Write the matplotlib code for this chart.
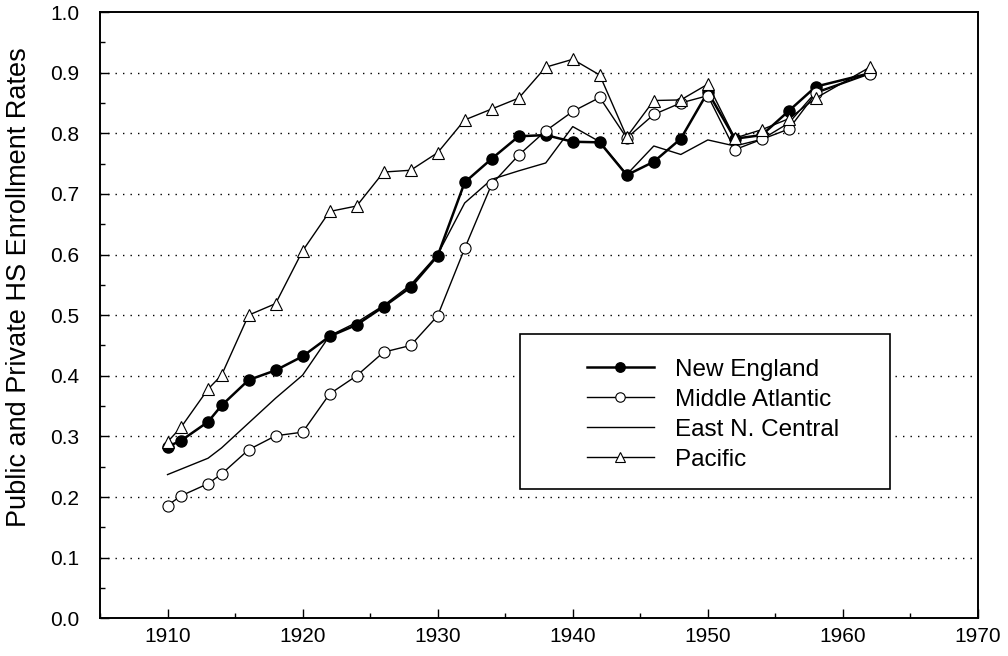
import numpy as np
import matplotlib
matplotlib.use("Agg")
import matplotlib.pyplot as plt
from matplotlib.patches import Rectangle
from matplotlib.ticker import MultipleLocator, FormatStrFormatter

plt.rcParams["font.family"] = ["Liberation Sans", "DejaVu Sans"]

years = [1910, 1911, 1913, 1914, 1916, 1918, 1920, 1922, 1924, 1926, 1928,
         1930, 1932, 1934, 1936, 1938, 1940, 1942, 1944, 1946, 1948, 1950,
         1952, 1954, 1956, 1958, 1962]

new_england = [0.283, 0.293, 0.324, 0.351, 0.393, 0.409, 0.432, 0.465, 0.484,
               0.514, 0.546, 0.598, 0.719, 0.758, 0.795, 0.797, 0.786, 0.785,
               0.731, 0.753, 0.791, 0.868, 0.791, 0.797, 0.837, 0.877, 0.899]
middle_atlantic = [0.186, 0.202, 0.222, 0.238, 0.278, 0.301, 0.307, 0.370, 0.400,
                   0.439, 0.450, 0.499, 0.610, 0.716, 0.764, 0.804, 0.836, 0.859,
                   0.792, 0.831, 0.850, 0.862, 0.773, 0.790, 0.807, 0.866, 0.898]
east_n_central = [0.237, 0.246, 0.264, 0.281, 0.322, 0.363, 0.401, 0.466, 0.488,
                  0.516, 0.550, 0.600, 0.685, 0.724, 0.738, 0.751, 0.811, 0.786,
                  0.732, 0.779, 0.765, 0.789, 0.779, 0.790, 0.817, 0.868, 0.899]
pacific = [0.291, 0.315, 0.378, 0.401, 0.500, 0.519, 0.606, 0.671, 0.680, 0.736,
           0.739, 0.768, 0.822, 0.840, 0.858, 0.909, 0.922, 0.896, 0.794, 0.854,
           0.855, 0.881, 0.792, 0.806, 0.824, 0.858, 0.909]

fig = plt.figure(figsize=(10.08, 6.56), dpi=100)
ax = fig.add_axes([0.0992, 0.0575, 0.8710, 0.9242])

for v in np.arange(0.1, 0.95, 0.1):
    ax.axhline(v, color="black", linestyle=(0, (1, 4.4)), linewidth=1.0, zorder=1)

ax.plot(years, new_england, color="black", linewidth=1.8, marker="o",
        markersize=8, markerfacecolor="black", markeredgecolor="black",
        label="New England", zorder=3)
ax.plot(years, east_n_central, color="black", linewidth=1.0,
        label="East N. Central", zorder=3)
ax.plot(years, middle_atlantic, color="black", linewidth=1.0, marker="o",
        markersize=8, markerfacecolor="white", markeredgecolor="black",
        markeredgewidth=0.8, label="Middle Atlantic", zorder=4)
ax.plot(years, pacific, color="black", linewidth=1.0, marker="^",
        markersize=9, markerfacecolor="white", markeredgecolor="black",
        markeredgewidth=0.8, label="Pacific", zorder=5)

# legend box drawn by hand so it matches the original frame size
ax.add_patch(Rectangle((0.478, 0.214), 0.422, 0.255, transform=ax.transAxes,
                       facecolor="white", edgecolor="black", linewidth=1.2,
                       zorder=6))
handles, labels = ax.get_legend_handles_labels()
order = [0, 2, 1, 3]
leg = ax.legend([handles[i] for i in order], [labels[i] for i in order],
                loc="upper left", bbox_to_anchor=(0.5547, 0.428),
                frameon=False, borderpad=0, borderaxespad=0,
                fontsize=17.5, handlelength=2.75, handletextpad=0.85,
                labelspacing=0.33, markerscale=0.85)
leg.set_zorder(7)

ax.set_xlim(1905, 1970)
ax.set_ylim(0.0, 1.0)
ax.xaxis.set_major_locator(MultipleLocator(10))
ax.xaxis.set_minor_locator(MultipleLocator(5))
ax.yaxis.set_major_locator(MultipleLocator(0.1))
ax.yaxis.set_minor_locator(MultipleLocator(0.05))
ax.yaxis.set_major_formatter(FormatStrFormatter("%.1f"))
ax.set_xticks([1910, 1920, 1930, 1940, 1950, 1960, 1970])

ax.tick_params(which="both", direction="in", color="black", width=1.0)
ax.tick_params(which="major", length=6.5, labelsize=15)
ax.tick_params(axis="y", which="major", pad=15)
ax.tick_params(axis="x", which="major", pad=6)
ax.tick_params(which="minor", length=3.6)
for s in ax.spines.values():
    s.set_linewidth(1.4)

ax.set_ylabel("Public and Private HS Enrollment Rates", fontsize=19.5)
ax.yaxis.set_label_coords(-0.078, 0.546)

fig.savefig("out.png", dpi=100, facecolor="white")
